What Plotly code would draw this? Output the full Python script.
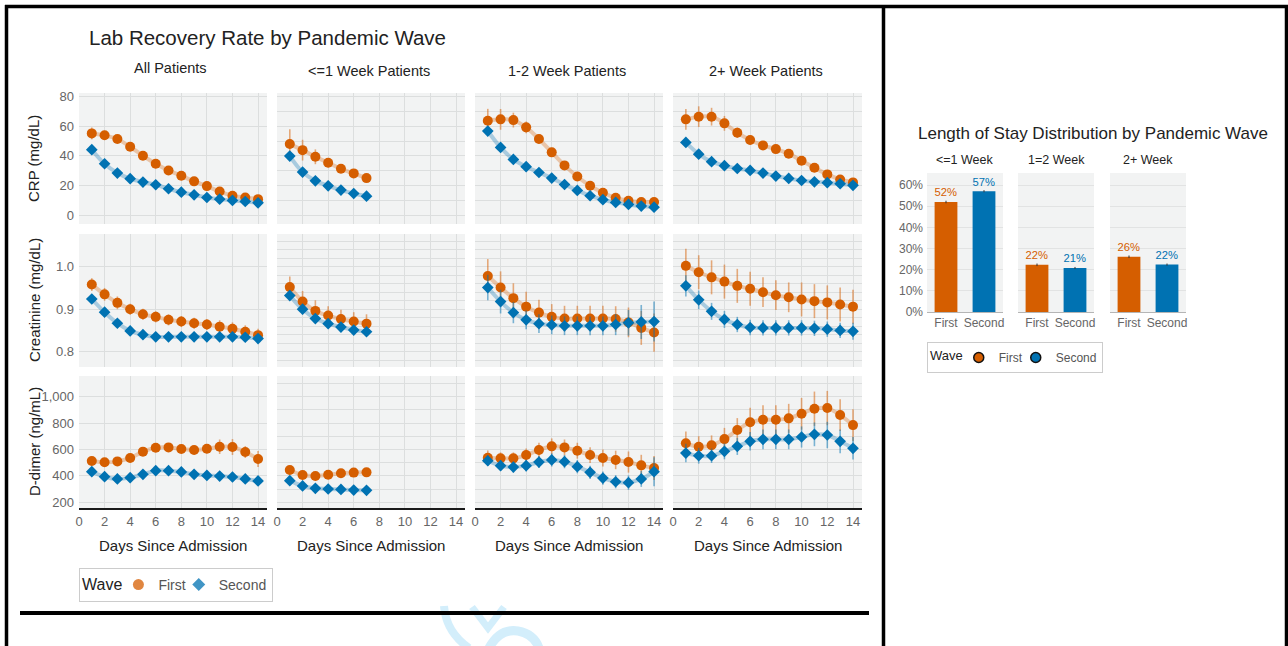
import plotly.graph_objects as go

W, H = 1288, 646

# ---------------- data ----------------
days = list(range(1, 15))
days_short = list(range(1, 8))
groups = ["All Patients", "<=1 Week Patients", "1-2 Week Patients", "2+ Week Patients"]
labs = ["CRP (mg/dL)", "Creatinine (mg/dL)", "D-dimer (ng/mL)"]
waves = ["First", "Second"]

crp_first_all = [55.2, 53.9, 51.4, 46.2, 40.1, 34.7, 30.2, 26.6, 22.8, 19.6, 16.0, 13.1, 11.9, 10.8]
crp_second_all = [44.2, 34.7, 28.4, 24.6, 22.3, 20.5, 17.8, 15.5, 13.7, 11.9, 10.8, 9.9, 9.2, 8.3]
crp_first_w1 = [48.0, 43.9, 39.4, 35.4, 31.3, 28.2, 25.0]
crp_second_w1 = [39.9, 29.1, 23.2, 19.8, 16.9, 14.6, 12.8]
crp_first_w12 = [63.8, 64.7, 64.2, 59.3, 51.4, 42.4, 33.6, 26.1, 19.8, 15.1, 11.7, 9.7, 8.8, 8.8]
crp_second_w12 = [56.8, 45.7, 37.6, 32.7, 28.8, 25.0, 20.7, 16.7, 13.1, 10.4, 8.6, 7.2, 6.1, 5.4]
crp_first_w2 = [64.7, 66.5, 66.5, 62.0, 55.7, 50.7, 47.1, 44.6, 41.5, 36.7, 32.0, 27.5, 24.1, 22.1]
crp_second_w2 = [49.1, 41.2, 36.1, 33.4, 31.5, 30.2, 28.4, 26.4, 24.8, 23.4, 22.5, 21.9, 21.2, 20.1]

crp_err_first_all = [4, 3, 2.5, 2, 2, 2, 2, 2, 2, 2, 2, 1.5, 1.5, 1.5]
crp_err_second_all = [1.5, 1.5, 1.2, 1, 1, 1, 1, 1, 1, 1, 1, 1, 1, 1]
crp_err_first_w1 = [10, 7, 5, 3, 2.5, 2, 2]
crp_err_second_w1 = [2, 2, 1.5, 1.5, 1.2, 1, 1]
crp_err_first_w12 = [8, 7, 5, 4, 3, 3, 2.5, 2, 2, 1.5, 1.5, 1.5, 1.5, 1.5]
crp_err_second_w12 = [3, 2.5, 2, 1.5, 1.5, 1.5, 1.2, 1.2, 1.2, 1, 1, 1, 1, 1]
crp_err_first_w2 = [7, 7, 6, 5, 3.5, 3, 2.5, 2.5, 2.5, 2, 2, 2, 2, 2]
crp_err_second_w2 = [2.5, 2, 1.5, 1.5, 1.2, 1.2, 1.2, 1.2, 1.2, 1, 1, 1, 1, 1]

cre_first_all = [0.958, 0.935, 0.915, 0.900, 0.888, 0.882, 0.875, 0.871, 0.867, 0.864, 0.859, 0.854, 0.847, 0.839]
cre_second_all = [0.924, 0.893, 0.867, 0.849, 0.840, 0.835, 0.835, 0.835, 0.835, 0.835, 0.835, 0.835, 0.834, 0.831]
cre_first_w1 = [0.952, 0.918, 0.896, 0.885, 0.877, 0.871, 0.866]
cre_second_w1 = [0.932, 0.900, 0.878, 0.866, 0.858, 0.851, 0.847]
cre_first_w12 = [0.978, 0.951, 0.926, 0.906, 0.892, 0.882, 0.878, 0.878, 0.878, 0.878, 0.877, 0.869, 0.856, 0.845]
cre_second_w12 = [0.951, 0.918, 0.892, 0.875, 0.866, 0.863, 0.861, 0.861, 0.861, 0.861, 0.864, 0.868, 0.870, 0.871]
cre_first_w2 = [1.002, 0.987, 0.975, 0.965, 0.955, 0.948, 0.940, 0.933, 0.928, 0.923, 0.919, 0.916, 0.911, 0.906]
cre_second_w2 = [0.955, 0.922, 0.895, 0.876, 0.864, 0.857, 0.856, 0.856, 0.856, 0.856, 0.855, 0.853, 0.850, 0.848]

cre_err_first_all = [0.015, 0.015, 0.015, 0.013, 0.013, 0.013, 0.013, 0.013, 0.013, 0.013, 0.015, 0.015, 0.015, 0.015]
cre_err_second_all = [0.008, 0.008, 0.007, 0.006, 0.006, 0.006, 0.006, 0.006, 0.006, 0.006, 0.006, 0.006, 0.007, 0.008]
cre_err_first_w1 = [0.025, 0.025, 0.025, 0.022, 0.022, 0.022, 0.022]
cre_err_second_w1 = [0.012, 0.012, 0.01, 0.01, 0.01, 0.01, 0.01]
cre_err_first_w12 = [0.04, 0.038, 0.035, 0.035, 0.03, 0.03, 0.03, 0.03, 0.03, 0.03, 0.03, 0.035, 0.04, 0.045]
cre_err_second_w12 = [0.03, 0.028, 0.025, 0.022, 0.022, 0.022, 0.022, 0.022, 0.022, 0.022, 0.025, 0.03, 0.04, 0.047]
cre_err_first_w2 = [0.04, 0.04, 0.04, 0.04, 0.04, 0.04, 0.035, 0.035, 0.035, 0.04, 0.04, 0.04, 0.04, 0.04]
cre_err_second_w2 = [0.025, 0.022, 0.02, 0.02, 0.018, 0.018, 0.018, 0.018, 0.018, 0.018, 0.018, 0.018, 0.018, 0.02]

ddi_first_all = [513, 503, 510, 536, 584, 614, 616, 604, 596, 606, 621, 619, 581, 528]
ddi_second_all = [432, 394, 377, 387, 412, 440, 440, 430, 412, 404, 399, 392, 377, 362]
ddi_first_w1 = [445, 407, 399, 409, 420, 425, 427]
ddi_second_w1 = [364, 324, 306, 301, 298, 293, 291]
ddi_first_w12 = [538, 533, 533, 558, 596, 624, 616, 591, 558, 536, 521, 505, 480, 460]
ddi_second_w12 = [515, 478, 467, 478, 505, 521, 508, 470, 427, 384, 356, 349, 377, 432]
ddi_first_w2 = [647, 621, 632, 679, 748, 806, 826, 826, 836, 871, 909, 914, 861, 785]
ddi_second_w2 = [573, 553, 553, 586, 624, 662, 677, 677, 677, 695, 715, 710, 662, 609]

ddi_err_first_all = [20, 20, 20, 20, 22, 25, 25, 25, 30, 35, 55, 60, 45, 60]
ddi_err_second_all = [15, 15, 15, 15, 15, 15, 15, 15, 18, 18, 20, 22, 22, 25]
ddi_err_first_w1 = [20, 15, 15, 15, 15, 15, 15]
ddi_err_second_w1 = [15, 12, 12, 10, 10, 10, 10]
ddi_err_first_w12 = [55, 45, 45, 50, 55, 60, 60, 60, 60, 65, 70, 80, 80, 90]
ddi_err_second_w12 = [40, 40, 40, 45, 45, 50, 50, 50, 50, 50, 50, 55, 60, 110]
ddi_err_first_w2 = [90, 80, 75, 85, 90, 110, 110, 110, 110, 120, 130, 130, 120, 120]
ddi_err_second_w2 = [70, 60, 55, 60, 65, 70, 75, 75, 75, 80, 90, 100, 90, 85]

los_groups = ["<=1 Week", "1=2 Week", "2+ Week"]
los_first = [52.0, 22.3, 26.1]
los_second = [57.1, 20.8, 22.4]
los_err_first = [0.6, 0.6, 0.6]
los_err_second = [0.5, 0.5, 0.5]

# --------------- assembly ---------------
series = {
    (0, 0): (days, crp_first_all, crp_err_first_all, crp_second_all, crp_err_second_all),
    (0, 1): (days_short, crp_first_w1, crp_err_first_w1, crp_second_w1, crp_err_second_w1),
    (0, 2): (days, crp_first_w12, crp_err_first_w12, crp_second_w12, crp_err_second_w12),
    (0, 3): (days, crp_first_w2, crp_err_first_w2, crp_second_w2, crp_err_second_w2),
    (1, 0): (days, cre_first_all, cre_err_first_all, cre_second_all, cre_err_second_all),
    (1, 1): (days_short, cre_first_w1, cre_err_first_w1, cre_second_w1, cre_err_second_w1),
    (1, 2): (days, cre_first_w12, cre_err_first_w12, cre_second_w12, cre_err_second_w12),
    (1, 3): (days, cre_first_w2, cre_err_first_w2, cre_second_w2, cre_err_second_w2),
    (2, 0): (days, ddi_first_all, ddi_err_first_all, ddi_second_all, ddi_err_second_all),
    (2, 1): (days_short, ddi_first_w1, ddi_err_first_w1, ddi_second_w1, ddi_err_second_w1),
    (2, 2): (days, ddi_first_w12, ddi_err_first_w12, ddi_second_w12, ddi_err_second_w12),
    (2, 3): (days, ddi_first_w2, ddi_err_first_w2, ddi_second_w2, ddi_err_second_w2),
}

ORANGE = "#D55E00"
BLUE = "#0072B2"
ORANGE_L = "rgba(213,94,0,0.30)"
BLUE_L = "rgba(0,114,178,0.30)"
ORANGE_E = "rgba(213,94,0,0.5)"
BLUE_E = "rgba(0,114,178,0.5)"
PANEL = "#f2f3f3"
GRID = "#dcdede"
FONT = "Liberation Sans, Arial, Helvetica, sans-serif"
TICKC = "#666666"
TEXTC = "#222222"

col_px = [(79, 267), (277, 465), (475, 663), (673, 862)]
row_px = [(93, 224), (234, 367), (376, 508)]
y_ranges = [[-6, 82.5], [0.764, 1.077], [157, 1157]]
y_dtick_main = [20, 0.1, 200]
y_dtick_other = [10, 0.02, 100]
y_fmt = ["", ".1f", ","]

def xdom(a, b):
    return [a / W, b / W]

def ydom(top, bot):
    return [1 - bot / H, 1 - top / H]

def names(n):
    ax = "" if n == 1 else str(n)
    return "x" + ax, "y" + ax, "xaxis" + ax, "yaxis" + ax

fig = go.Figure()
layout = {}

for r in range(3):
    for c in range(4):
        n = r * 4 + c + 1
        xn, yn, xk, yk = names(n)
        layout[xk] = dict(
            domain=xdom(*col_px[c]), anchor=yn, range=[0, 14.7],
            tickmode="array", tickvals=list(range(0, 15, 2)),
            showgrid=True, gridcolor=GRID, gridwidth=1, zeroline=False,
            showticklabels=(r == 2), ticks="", automargin=False,
            tickfont=dict(size=13, color=TICKC, family=FONT),
            showline=(r == 2), linecolor="#1a1a1a", linewidth=2,
        )
        layout[yk] = dict(
            domain=ydom(*row_px[r]), anchor=xn, range=y_ranges[r],
            dtick=y_dtick_main[r] if c == 0 else y_dtick_other[r],
            tick0=0, showgrid=True, gridcolor=GRID, gridwidth=1, zeroline=False,
            showticklabels=(c == 0), ticks="", tickformat=y_fmt[r], automargin=False,
            tickfont=dict(size=13, color=TICKC, family=FONT),
            ticklabelstandoff=4,
        )
        x, f, fe, s, se = series[(r, c)]
        fig.add_trace(go.Scatter(x=x, y=f, mode="lines", line=dict(color=ORANGE_L, width=4, shape="spline"),
                                 xaxis=xn, yaxis=yn, showlegend=False, hoverinfo="skip"))
        fig.add_trace(go.Scatter(x=x, y=s, mode="lines", line=dict(color=BLUE_L, width=4, shape="spline"),
                                 xaxis=xn, yaxis=yn, showlegend=False, hoverinfo="skip"))
        fig.add_trace(go.Scatter(x=x, y=f, mode="markers",
                                 marker=dict(color=ORANGE, size=10, symbol="circle"),
                                 error_y=dict(type="data", array=fe, color=ORANGE_E, thickness=1.6, width=0),
                                 xaxis=xn, yaxis=yn, showlegend=False, name="First"))
        fig.add_trace(go.Scatter(x=x, y=s, mode="markers",
                                 marker=dict(color=BLUE, size=9, symbol="diamond"),
                                 error_y=dict(type="data", array=se, color=BLUE_E, thickness=1.6, width=0),
                                 xaxis=xn, yaxis=yn, showlegend=False, name="Second"))

# legend-only traces for left chart
fig.add_trace(go.Scatter(x=[None], y=[None], mode="markers", name="First", legend="legend",
                         marker=dict(color="rgba(213,94,0,0.75)", size=11, symbol="circle"), xaxis="x", yaxis="y"))
fig.add_trace(go.Scatter(x=[None], y=[None], mode="markers", name="Second", legend="legend",
                         marker=dict(color="rgba(0,114,178,0.75)", size=10, symbol="diamond"), xaxis="x", yaxis="y"))

# right chart: bars
bar_px = [(927, 1003), (1018, 1094), (1110, 1186)]
for i in range(3):
    n = 13 + i
    xn, yn, xk, yk = names(n)
    layout[xk] = dict(domain=xdom(*bar_px[i]), anchor=yn, type="category",
                      range=[-0.5, 1.5], showgrid=False, zeroline=False, ticks="", automargin=False,
                      showline=True, linecolor="#b5b5b5", linewidth=1,
                      tickfont=dict(size=12, color=TICKC, family=FONT))
    layout[yk] = dict(domain=ydom(173, 312), anchor=xn, range=[0, 65.7], dtick=10,
                      showgrid=True, gridcolor="#e2e3e3", zeroline=False, ticks="", automargin=False,
                      showticklabels=(i == 0), ticksuffix="%",
                      tickfont=dict(size=12, color=TICKC, family=FONT), ticklabelstandoff=3)
    fig.add_trace(go.Bar(x=[waves[0]], y=[los_first[i]], marker=dict(color=ORANGE, line=dict(width=0)),
                         width=0.6, xaxis=xn, yaxis=yn, showlegend=False,
                         error_y=dict(type="data", array=[los_err_first[i]], color="#333", thickness=1, width=0),
                         text=[f"{round(los_first[i])}%"], textposition="outside",
                         textfont=dict(color=ORANGE, size=13, family=FONT), cliponaxis=False))
    fig.add_trace(go.Bar(x=[waves[1]], y=[los_second[i]], marker=dict(color=BLUE, line=dict(width=0)),
                         width=0.6, xaxis=xn, yaxis=yn, showlegend=False,
                         error_y=dict(type="data", array=[los_err_second[i]], color="#333", thickness=1, width=0),
                         text=[f"{round(los_second[i])}%"], textposition="outside",
                         textfont=dict(color=BLUE, size=13, family=FONT), cliponaxis=False))

fig.add_trace(go.Scatter(x=[None], y=[None], mode="markers", name="First", legend="legend2",
                         marker=dict(color=ORANGE, size=10, symbol="circle", line=dict(color="#111", width=1.5)),
                         xaxis="x13", yaxis="y13"))
fig.add_trace(go.Scatter(x=[None], y=[None], mode="markers", name="Second", legend="legend2",
                         marker=dict(color=BLUE, size=10, symbol="circle", line=dict(color="#111", width=1.5)),
                         xaxis="x13", yaxis="y13"))

# --------------- annotations ---------------
ann = []
def text(x, y, s, size, color=TEXTC, xanchor="center", angle=0):
    ann.append(dict(x=x / W, y=1 - y / H, xref="paper", yref="paper", text=s, showarrow=False,
                    xanchor=xanchor, yanchor="middle", textangle=angle,
                    font=dict(size=size, color=color, family=FONT)))

text(87, 37, "Lab Recovery Rate by Pandemic Wave", 20.5, xanchor="left")
title_y = [68, 71, 71, 71]
for c, g in enumerate(groups):
    cx = (col_px[c][0] + col_px[c][1]) / 2
    text(cx - 2, title_y[c], g, 14.5)
    text(cx, 545, "Days Since Admission", 15)
row_cy = [159, 300, 442]
for r, lab in enumerate(labs):
    text(34, row_cy[r], lab, 15, angle=-90)

text(1093, 134, "Length of Stay Distribution by Pandemic Wave", 17)
for i, g in enumerate(los_groups):
    cx = (bar_px[i][0] + bar_px[i][1]) / 2
    text(cx, 160, g, 12.5)

# --------------- decoration: frame lines and faint watermark ---------------
def px(x, y):
    return f"{x / W:.5f},{1 - y / H:.5f}"

def wpath(pts_cmd, w):
    return dict(type="path", xref="paper", yref="paper", path=pts_cmd,
                line=dict(color="#d3eefb", width=w), layer="above")

shapes = [
    wpath(f"M{px(444, 606)} Q{px(446, 632)} {px(469, 648)}", 8),
    wpath(f"M{px(472, 607)} L{px(488, 628)} L{px(504, 607)}", 7),
    wpath(f"M{px(489, 648)} Q{px(500, 628)} {px(518, 631)} Q{px(534, 634)} {px(539, 648)}", 9),
]

def pline(x0, y0, x1, y1, w):
    return dict(type="line", xref="paper", yref="paper", x0=x0 / W, y0=1 - y0 / H, x1=x1 / W, y1=1 - y1 / H,
                line=dict(color="#000", width=w), layer="above")

shapes += [
    pline(5, 6.5, 1288, 6.5, 3.5),
    pline(6.5, 5, 6.5, 646, 3.5),
    pline(883.5, 5, 883.5, 646, 3.5),
    pline(1286.5, 5, 1286.5, 646, 3.5),
    pline(20, 613, 869, 613, 4),
]

fig.update_layout(
    **layout,
    width=W, height=H, autosize=False,
    margin=dict(l=0, r=0, t=0, b=0, pad=0),
    paper_bgcolor="white", plot_bgcolor=PANEL,
    font=dict(family=FONT, color=TEXTC),
    annotations=ann, shapes=shapes,
    bargap=0.4,
    legend=dict(x=79 / W, y=1 - 568 / H, xanchor="left", yanchor="top", orientation="h",
                bgcolor="white", bordercolor="#cccccc", borderwidth=1,
                title=dict(text="Wave", font=dict(size=16, color=TEXTC, family=FONT)),
                font=dict(size=14, color="#555", family=FONT), itemwidth=30, indentation=-12,
                tracegroupgap=0),
    legend2=dict(x=927 / W, y=1 - 342 / H, xanchor="left", yanchor="top", orientation="h",
                 bgcolor="white", bordercolor="#cccccc", borderwidth=1,
                 title=dict(text="Wave", font=dict(size=13, color=TEXTC, family=FONT)),
                 font=dict(size=12, color="#555", family=FONT), itemwidth=30, indentation=-12),
)

fig.write_html("out.html", config={"displayModeBar": False},
               post_script="document.body.style.margin='0px';document.body.style.overflow='hidden';")
